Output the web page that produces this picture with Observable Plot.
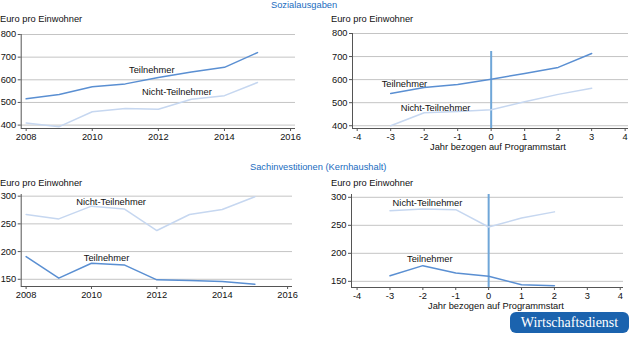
<!DOCTYPE html>
<html><head><meta charset="utf-8">
<script src="https://cdn.jsdelivr.net/npm/d3@7"></script>
<script src="https://cdn.jsdelivr.net/npm/@observablehq/plot@0.6"></script>
<style>
html,body{margin:0;padding:0;background:#fff;}
#root{position:relative;width:630px;height:343px;overflow:hidden;font-family:"Liberation Sans",Arial,sans-serif;font-size:9.3px;color:#111;}
.t{position:absolute;white-space:nowrap;line-height:10px;}
.blue{color:#1a6cc0;}
.badge{position:absolute;left:510px;top:312px;width:119px;height:21px;border-radius:6px;background:#1b63ae;color:#fff;font-family:"Liberation Serif","DejaVu Serif",serif;font-size:14px;line-height:21px;text-align:center;}
</style></head>
<body><div id="root"></div>
<script>
// ---- data ----
const years = [2008, 2009, 2010, 2011, 2012, 2013, 2014, 2015];
const relTop = [-3, -2, -1, 0, 1, 2, 3];
const relBottom = [-3, -2, -1, 0, 1, 2];

const sozTeilnehmer = [516, 535, 569, 582, 610, 634, 655, 720];
const sozNicht = [409, 393, 459, 473, 470, 514, 530, 588];
const sozRelTeilnehmer = [540, 566, 579, 602, 627, 653, 713];
const sozRelNicht = [400, 456, 462, 469, 504, 536, 563];

const sachTeilnehmer = [191, 152, 179, 176, 149, 148, 146, 141];
const sachNicht = [267, 259, 282, 277, 238, 267, 276, 299];
const sachRelTeilnehmer = [160, 178, 165, 159, 144, 142];
const sachRelNicht = [276, 279, 278, 247, 263, 274];

const yTicksSoz = [400, 500, 600, 700, 800];
const yTicksSach = [150, 200, 250, 300];
const xTicksYears = [2008, 2010, 2012, 2014, 2016];
const xTicksRel = [-4, -3, -2, -1, 0, 1, 2, 3, 4];

const seriesNames = ["Teilnehmer", "Nicht-Teilnehmer"];
const colTeil = "#5a8fd2";
const colNicht = "#c6d7f0";

const root = document.getElementById("root");
function addText(txt, cls, style) {
  const d = document.createElement("div");
  d.className = "t " + (cls || "");
  d.textContent = txt;
  Object.assign(d.style, style);
  root.appendChild(d);
  return d;
}

function panel(o) {
  const tbl = (xs, ys, s) => xs.map((x, i) => ({x, y: ys[i], s}));
  const marks = [
    Plot.ruleY(o.yTicks, {stroke: "#c4c4c4", strokeWidth: 1}),
    Plot.axisY({ticks: o.yTicks, tickSize: 3, tickPadding: 2, label: null, stroke: "#555"}),
    Plot.axisX({ticks: o.xTicks, tickSize: 3, tickPadding: 2, label: null, stroke: "#555",
      tickFormat: d => (d < 0 ? "-" + (-d) : String(d))}),
    Plot.ruleX([o.xDomain[0]], {stroke: "#555", strokeWidth: 1}),
    Plot.ruleY([o.yDomain[0]], {stroke: "#555", strokeWidth: 1}),
  ];
  if (o.vline) marks.push(Plot.ruleX([0], {y1: o.yDomain[0], y2: o.vline, stroke: "#6fa6d8", strokeWidth: 2}));
  marks.push(
    Plot.line(tbl(o.x, o.nicht, seriesNames[1]), {x: "x", y: "y", stroke: colNicht, strokeWidth: 1.5}),
    Plot.line(tbl(o.x, o.teil, seriesNames[0]), {x: "x", y: "y", stroke: colTeil, strokeWidth: 1.5}),
    Plot.text(o.labels, {x: "x", y: "y", text: "t", fill: "#111", fontSize: 9.3})
  );
  const svg = Plot.plot({
    width: o.width, height: o.height,
    marginLeft: o.m[3], marginRight: o.m[1], marginTop: o.m[0], marginBottom: o.m[2],
    style: {fontFamily: '"Liberation Sans",Arial,sans-serif', fontSize: "9.3px", color: "#111", background: "transparent", overflow: "visible"},
    x: {domain: o.xDomain},
    y: {domain: o.yDomain},
    marks
  });
  svg.style.position = "absolute";
  svg.style.left = o.left + "px";
  svg.style.top = o.top + "px";
  root.appendChild(svg);
}

// Titles
addText("Sozialausgaben", "blue", {left: "271px", top: "0px"});
addText("Sachinvestitionen (Kernhaushalt)", "blue", {left: "250px", top: "162px"});
addText("Euro pro Einwohner", "", {left: "0px", top: "14px"});
addText("Euro pro Einwohner", "", {left: "331px", top: "14px"});
addText("Euro pro Einwohner", "", {left: "0px", top: "178px"});
addText("Euro pro Einwohner", "", {left: "331px", top: "178px"});
addText("Jahr bezogen auf Programmstart", "", {left: "430px", top: "142px"});
addText("Jahr bezogen auf Programmstart", "", {left: "428px", top: "301px"});

panel({left: 0, top: 25, width: 300, height: 125, m: [9, 5, 22, 20.7],
  xDomain: [2007.85, 2016.15], yDomain: [385, 800], yTicks: yTicksSoz, xTicks: xTicksYears,
  x: years, teil: sozTeilnehmer, nicht: sozNicht,
  labels: [{x: 2011.8, y: 644, t: seriesNames[0]}, {x: 2012.56, y: 547, t: seriesNames[1]}]});

panel({left: 310, top: 25, width: 320, height: 125, m: [8, 2, 22, 42],
  xDomain: [-4.14, 4.1], yDomain: [388, 800], yTicks: yTicksSoz, xTicks: xTicksRel,
  x: relTop, teil: sozRelTeilnehmer, nicht: sozRelNicht, vline: 722,
  labels: [{x: -2.59, y: 583, t: seriesNames[0]}, {x: -1.66, y: 479, t: seriesNames[1]}]});

panel({left: 0, top: 185, width: 300, height: 115, m: [9, 8, 14, 20.7],
  xDomain: [2007.85, 2016.15], yDomain: [137, 303], yTicks: yTicksSach, xTicks: xTicksYears,
  x: years, teil: sachTeilnehmer, nicht: sachNicht,
  labels: [{x: 2010.6, y: 290, t: seriesNames[1]}, {x: 2010.46, y: 187.5, t: seriesNames[0]}]});

panel({left: 310, top: 185, width: 320, height: 115, m: [9, 7, 13, 41],
  xDomain: [-4.17, 4.1], yDomain: [139, 305], yTicks: yTicksSach, xTicks: xTicksRel,
  x: relBottom, teil: sachRelTeilnehmer, nicht: sachRelNicht, vline: 305,
  labels: [{x: -1.86, y: 289, t: seriesNames[1]}, {x: -1.79, y: 189, t: seriesNames[0]}]});

const b = document.createElement("div");
b.className = "badge";
b.textContent = "Wirtschaftsdienst";
root.appendChild(b);
</script>
</body></html>
